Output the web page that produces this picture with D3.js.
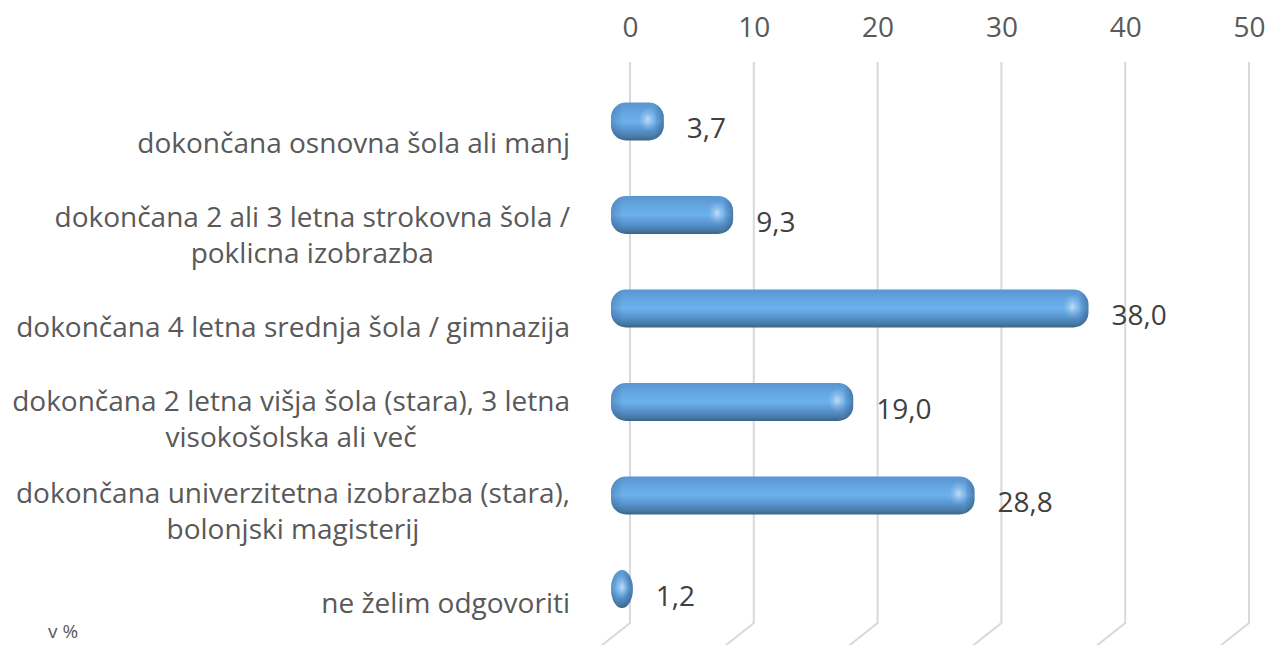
<!DOCTYPE html>
<html>
<head>
<meta charset="utf-8">
<script src="https://cdn.jsdelivr.net/npm/d3@7"></script>
<style>
  html, body { margin: 0; padding: 0; background: #fff; }
  svg { display: block; }
</style>
</head>
<body>
<div id="container"></div>
<script>
// data
const categories = [
  ["dokončana osnovna šola ali manj"],
  ["dokončana 2 ali 3 letna strokovna šola /", "poklicna izobrazba"],
  ["dokončana 4 letna srednja šola / gimnazija"],
  ["dokončana 2 letna višja šola (stara), 3 letna", "visokošolska ali več"],
  ["dokončana univerzitetna izobrazba (stara),", "bolonjski magisterij"],
  ["ne želim odgovoriti"]
];
const values = [3.7, 9.3, 38.0, 19.0, 28.8, 1.2];
const tickValues = [0, 10, 20, 30, 40, 50];
const unitLabel = "v %";

const W = 1269, H = 645;
const fontFamily = "'Open Sans', 'Noto Sans', sans-serif";

let svg = d3.select("#container")
  .append("svg")
    .attr("width", W)
    .attr("height", H)
;

let idx = d3.range(values.length);

let x = d3.scaleLinear().domain([0, 50]).range([630, 1249]);
let yBar = d3.scalePoint().domain(idx).range([121.5, 589]);
let yLab = d3.scalePoint().domain(idx).range([143, 603]);

// fit the font size to the widest category line (Calibri substitute)
let probe = svg.append("text")
    .attr("font-family", fontFamily)
    .attr("font-size", 24)
;
let widest = 0;
categories.forEach(lines => lines.forEach(l => {
  probe.text(l);
  widest = Math.max(widest, probe.node().getComputedTextLength());
}));
probe.remove();
let fs = 24 * 558 / widest;

// gradients
let defs = svg.append("defs");
let grad = defs.append("linearGradient")
    .attr("id", "barGrad")
    .attr("x1", 0).attr("y1", 0).attr("x2", 0).attr("y2", 1)
;
[[0, "#5a95d0"], [0.3, "#66a8e3"], [0.5, "#6cb1ec"], [0.75, "#5690ca"], [0.92, "#46779f"], [1, "#38628c"]]
  .forEach(s => grad.append("stop").attr("offset", s[0]).attr("stop-color", s[1]));

let spot = defs.append("radialGradient").attr("id", "spot");
spot.append("stop").attr("offset", 0).attr("stop-color", "#ffffff").attr("stop-opacity", 0.55);
spot.append("stop").attr("offset", 0.5).attr("stop-color", "#ffffff").attr("stop-opacity", 0.2);
spot.append("stop").attr("offset", 1).attr("stop-color", "#ffffff").attr("stop-opacity", 0);

// gridlines with 3D floor slant
svg.append("g")
  .selectAll("path")
  .data(tickValues)
  .join("path")
    .attr("d", d => `M${x(d)},62 V623 l-34,27`)
    .attr("fill", "none")
    .attr("stroke", "#d9d9d9")
    .attr("stroke-width", 2)
;

// tick labels
let axis = svg.append("g")
    .attr("transform", "translate(0,37)")
    .call(d3.axisTop(x).tickValues(tickValues).tickSize(0).tickPadding(0).tickFormat(d3.format("d")))
;
axis.select(".domain").remove();
axis.selectAll("text")
    .attr("fill", "#595959")
    .attr("font-family", fontFamily)
    .attr("font-size", fs)
;

// bars
let bars = svg.append("g");
idx.forEach(i => {
  let x0 = x(0) - 19;
  let x1 = x(values[i]) - 12;
  let w = x1 - x0;
  let h = 38;
  let rx = Math.min(15, w / 2);
  let ry = rx < 15 ? h / 2 : 15;
  let yc = yBar(i);

  // per-bar end shading
  let eg = defs.append("linearGradient")
      .attr("id", "endGrad" + i)
      .attr("gradientUnits", "userSpaceOnUse")
      .attr("x1", x0).attr("x2", x1).attr("y1", 0).attr("y2", 0)
  ;
  eg.append("stop").attr("offset", 0).attr("stop-color", "#1f3f66").attr("stop-opacity", 0.25);
  eg.append("stop").attr("offset", Math.min(12 / w, 0.3)).attr("stop-color", "#1f3f66").attr("stop-opacity", 0);
  eg.append("stop").attr("offset", Math.max(0.5, 1 - 10 / w)).attr("stop-color", "#1f3f66").attr("stop-opacity", 0);
  eg.append("stop").attr("offset", 1).attr("stop-color", "#1f3f66").attr("stop-opacity", 0.45);

  let b = bars.append("g");
  b.append("rect")
      .attr("x", x0)
      .attr("y", yc - h / 2)
      .attr("width", w)
      .attr("height", h)
      .attr("rx", rx)
      .attr("ry", ry)
      .attr("fill", "url(#barGrad)")
  ;
  b.append("rect")
      .attr("x", x0)
      .attr("y", yc - h / 2)
      .attr("width", w)
      .attr("height", h)
      .attr("rx", rx)
      .attr("ry", ry)
      .attr("fill", `url(#endGrad${i})`)
  ;
  // specular highlight near the end cap
  b.append("ellipse")
      .attr("cx", x1 - Math.min(16, w / 2))
      .attr("cy", yc - 2)
      .attr("rx", Math.min(9, w / 3))
      .attr("ry", 12)
      .attr("fill", "url(#spot)")
  ;
});

// value labels
svg.append("g")
  .selectAll("text")
  .data(idx)
  .join("text")
    .text(i => d3.format(".1f")(values[i]).replace(".", ","))
    .attr("x", i => x(values[i]) + 11)
    .attr("y", i => yBar(i) + 16.5)
    .attr("fill", "#404040")
    .attr("font-family", fontFamily)
    .attr("font-size", fs)
;

// category labels
let lineH = 36.5;
let labG = svg.append("g");
idx.forEach(i => {
  let lines = categories[i];
  let g = labG.append("g");
  let t = g.selectAll("text")
    .data(lines)
    .join("text")
      .text(d => d)
      .attr("fill", "#595959")
      .attr("font-family", fontFamily)
      .attr("font-size", fs)
      .attr("text-anchor", "middle")
      .attr("y", (d, j) => yLab(i) + (j - (lines.length - 1) / 2) * lineH + fs * 0.36)
  ;
  let maxW = d3.max(t.nodes(), n => n.getComputedTextLength());
  t.attr("x", 570 - maxW / 2);
});

// unit label
svg.append("text")
    .text(unitLabel)
    .attr("x", 48)
    .attr("y", 638)
    .attr("fill", "#595959")
    .attr("font-family", fontFamily)
    .attr("font-size", 19)
;
</script>
</body>
</html>
